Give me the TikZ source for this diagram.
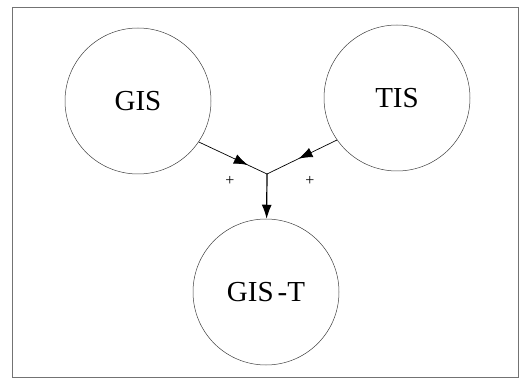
\documentclass[tikz,border=0pt]{standalone}
\usepackage{fontspec}
\setmainfont{Liberation Serif}
\usetikzlibrary{arrows.meta,decorations.markings}
\tikzset{
  sys/.style   = {circle, draw=black!75, line width=0.5pt,
                  minimum size=146pt, inner sep=0pt,
                  font=\fontsize{29}{31}\selectfont},
  flow/.style  = {line width=0.7pt, postaction={decorate},
                  decoration={markings, mark=at position #1 with
                  {\arrow{Latex[length=14pt,width=10pt]}}}},
  arr/.style   = {-{Latex[length=14pt,width=10pt]}, line width=1.2pt},
  sign/.style  = {font=\fontsize{16}{18}\selectfont, inner sep=0pt},
  frame/.style = {draw=black!55, line width=0.5pt}
}
\begin{document}
\begin{tikzpicture}[x=1pt, y=-1pt]
  \useasboundingbox (0,0) rectangle (522,379);
  \draw[frame] (12,7) rectangle (518,377);

  \node[sys] (gis)  at (138,101) {GIS};
  \node[sys] (tis)  at (397,98)  {TIS};
  \node[sys] (gist) at (266,292) {GIS{\kern4pt}-T};
  \coordinate (join) at (267,174);

  \draw[flow=0.72] (gis.326) -- (join);
  \draw[flow=0.55] (tis.215) -- (join);
  \draw[arr] (join) -- (gist);

  \node[sign] (pl) at (230,181) {+};
  \node[sign] (pr) at (310,181) {+};
\end{tikzpicture}
\end{document}
